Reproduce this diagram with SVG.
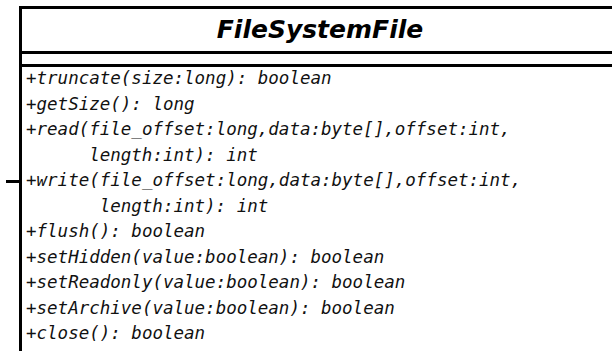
<svg xmlns="http://www.w3.org/2000/svg" width="612" height="351" viewBox="0 0 612 351">
<style>
.box{fill:#fff;stroke:#000;stroke-width:3}
.sep{stroke:#000;stroke-width:3}
.title{font-family:"DejaVu Sans",sans-serif;font-weight:bold;font-style:italic;font-size:25px;fill:#000;text-anchor:middle}
.op{font-family:"DejaVu Sans Mono",monospace;font-style:italic;font-size:17.5px;fill:#111}
</style>
<rect width="612" height="351" fill="#fff"/>
<g id="connectors">
<line x1="6" y1="181.5" x2="20.5" y2="181.5" stroke="#000" stroke-width="3"/>
</g>
<g id="FileSystemFile">
<rect class="box" x="20.5" y="7.5" width="620" height="380"/>
<line class="sep" x1="20.5" y1="52.5" x2="640" y2="52.5"/>
<line class="sep" x1="20.5" y1="65.5" x2="640" y2="65.5"/>
<text class="title" x="320" y="37.5">FileSystemFile</text>
<text class="op" x="26" y="84">+truncate(size:long): boolean</text>
<text class="op" x="26" y="109.5">+getSize(): long</text>
<text class="op" x="26" y="135">+read(file_offset:long,data:byte[],offset:int,</text>
<text class="op" x="89.2" y="160.5">length:int): int</text>
<text class="op" x="26" y="186">+write(file_offset:long,data:byte[],offset:int,</text>
<text class="op" x="99.7" y="211.5">length:int): int</text>
<text class="op" x="26" y="237">+flush(): boolean</text>
<text class="op" x="26" y="262.5">+setHidden(value:boolean): boolean</text>
<text class="op" x="26" y="288">+setReadonly(value:boolean): boolean</text>
<text class="op" x="26" y="313.5">+setArchive(value:boolean): boolean</text>
<text class="op" x="26" y="339">+close(): boolean</text>
</g>
</svg>
